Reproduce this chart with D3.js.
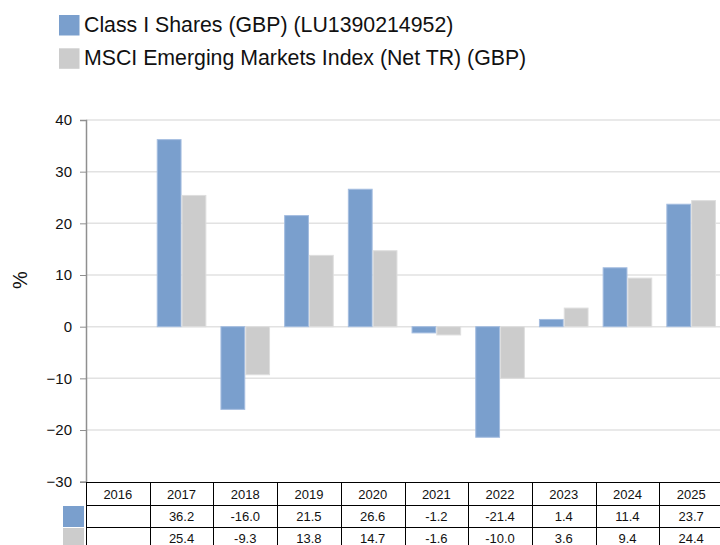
<!DOCTYPE html>
<html>
<head>
<meta charset="utf-8">
<script src="https://cdn.jsdelivr.net/npm/d3@7"></script>
<style>
  body { margin: 0; background: #fff; }
  svg { font-family: "Liberation Sans", Arial, sans-serif; }
</style>
</head>
<body>
<svg></svg>
<script>
const years = ["2016", "2017", "2018", "2019", "2020", "2021", "2022", "2023", "2024", "2025"]
const fundReturns = [null, 36.2, -16.0, 21.5, 26.6, -1.2, -21.4, 1.4, 11.4, 23.7]
const indexReturns = [null, 25.4, -9.3, 13.8, 14.7, -1.6, -10.0, 3.6, 9.4, 24.4]
const seriesNames = ["Class I Shares (GBP) (LU1390214952)", "MSCI Emerging Markets Index (Net TR) (GBP)"]
const seriesColors = ["#7a9fcd", "#cccccc"]
const yTicks = [-30, -20, -10, 0, 10, 20, 30, 40]

const svg = d3.select("svg")
  .attr("width", 720)
  .attr("height", 545)

const left = 86
const colW = 63.7

const xScale = d3.scaleBand()
  .domain(years)
  .range([left, left + colW * years.length])

const seriesScale = d3.scaleBand()
  .domain([0, 1])
  .range([0, xScale.bandwidth()])
  .paddingOuter(0.284)

const yScale = d3.scaleLinear()
  .domain([-30, 40])
  .range([481.7, 120])

// gridlines
svg.append("g")
  .selectAll("line")
  .data(yTicks.filter(d => d > -30))
  .enter()
  .append("line")
  .attr("x1", left)
  .attr("x2", 720)
  .attr("y1", d => yScale(d))
  .attr("y2", d => yScale(d))
  .attr("stroke", "#e2e2e2")
  .attr("stroke-width", 1.5)

// y axis
const yAxis = d3.axisLeft(yScale)
  .tickValues(yTicks)
  .tickSize(6)
  .tickPadding(8)

const yAxisG = svg.append("g")
  .attr("transform", `translate(${left}, 0)`)
  .call(yAxis)

yAxisG.select(".domain").attr("stroke", "#8f8f8f").attr("stroke-width", 1.5)
yAxisG.selectAll(".tick line").attr("stroke", "#8f8f8f")
yAxisG.selectAll(".tick text")
  .attr("font-size", 15)
  .attr("font-family", "Liberation Sans, Arial, sans-serif")
  .attr("fill", "#111")

svg.append("text")
  .attr("transform", "translate(27, 280) rotate(-90)")
  .attr("text-anchor", "middle")
  .attr("font-size", 20)
  .attr("fill", "#111")
  .text("%")

// bars
const allSeries = [fundReturns, indexReturns]
allSeries.forEach((values, s) => {
  svg.append("g")
    .selectAll("rect")
    .data(values.map((v, i) => ({ year: years[i], value: v })).filter(d => d.value !== null))
    .enter()
    .append("rect")
    .attr("x", d => xScale(d.year) + seriesScale(s) + 0.5)
    .attr("width", seriesScale.bandwidth() - 1)
    .attr("y", d => yScale(Math.max(0, d.value)))
    .attr("height", d => Math.abs(yScale(d.value) - yScale(0)))
    .attr("fill", seriesColors[s])
    .attr("stroke", s === 0 ? "#a4bde0" : "#dedede")
    .attr("stroke-width", 1)
})

// legend
const legend = svg.append("g")
seriesNames.forEach((name, i) => {
  legend.append("rect")
    .attr("x", 59)
    .attr("y", 15 + i * 33.3)
    .attr("width", 20.5)
    .attr("height", 20.5)
    .attr("fill", seriesColors[i])
  legend.append("text")
    .attr("x", 84)
    .attr("y", 32 + i * 33)
    .attr("font-size", 21.3)
    .attr("fill", "#111")
    .text(name)
})

// data table
const rowTop = [482, 505, 527]
const table = svg.append("g")

table.selectAll("line.h")
  .data(rowTop)
  .enter()
  .append("line")
  .attr("x1", left)
  .attr("x2", 720)
  .attr("y1", d => d + 0.5)
  .attr("y2", d => d + 0.5)
  .attr("stroke", "#000")

table.selectAll("line.v")
  .data(years.concat(["end"]))
  .enter()
  .append("line")
  .attr("x1", (d, i) => Math.round(left + colW * i) + 0.5)
  .attr("x2", (d, i) => Math.round(left + colW * i) + 0.5)
  .attr("y1", 482)
  .attr("y2", 545)
  .attr("stroke", "#000")

table.selectAll("text.year")
  .data(years)
  .enter()
  .append("text")
  .attr("x", d => xScale(d) + xScale.bandwidth() / 2)
  .attr("y", 498.5)
  .attr("text-anchor", "middle")
  .attr("font-size", 13)
  .attr("fill", "#111")
  .text(d => d)

allSeries.forEach((values, s) => {
  table.append("rect")
    .attr("x", 63)
    .attr("y", rowTop[s + 1] + 1)
    .attr("width", 21)
    .attr("height", 21)
    .attr("fill", seriesColors[s])
  table.append("g")
    .selectAll("text")
    .data(values.map((v, i) => ({ year: years[i], value: v })).filter(d => d.value !== null))
    .enter()
    .append("text")
    .attr("x", d => xScale(d.year) + xScale.bandwidth() / 2)
    .attr("y", rowTop[s + 1] + 15.5)
    .attr("text-anchor", "middle")
    .attr("font-size", 13)
    .attr("fill", "#111")
    .text(d => d.value.toFixed(1))
})
</script>
</body>
</html>
